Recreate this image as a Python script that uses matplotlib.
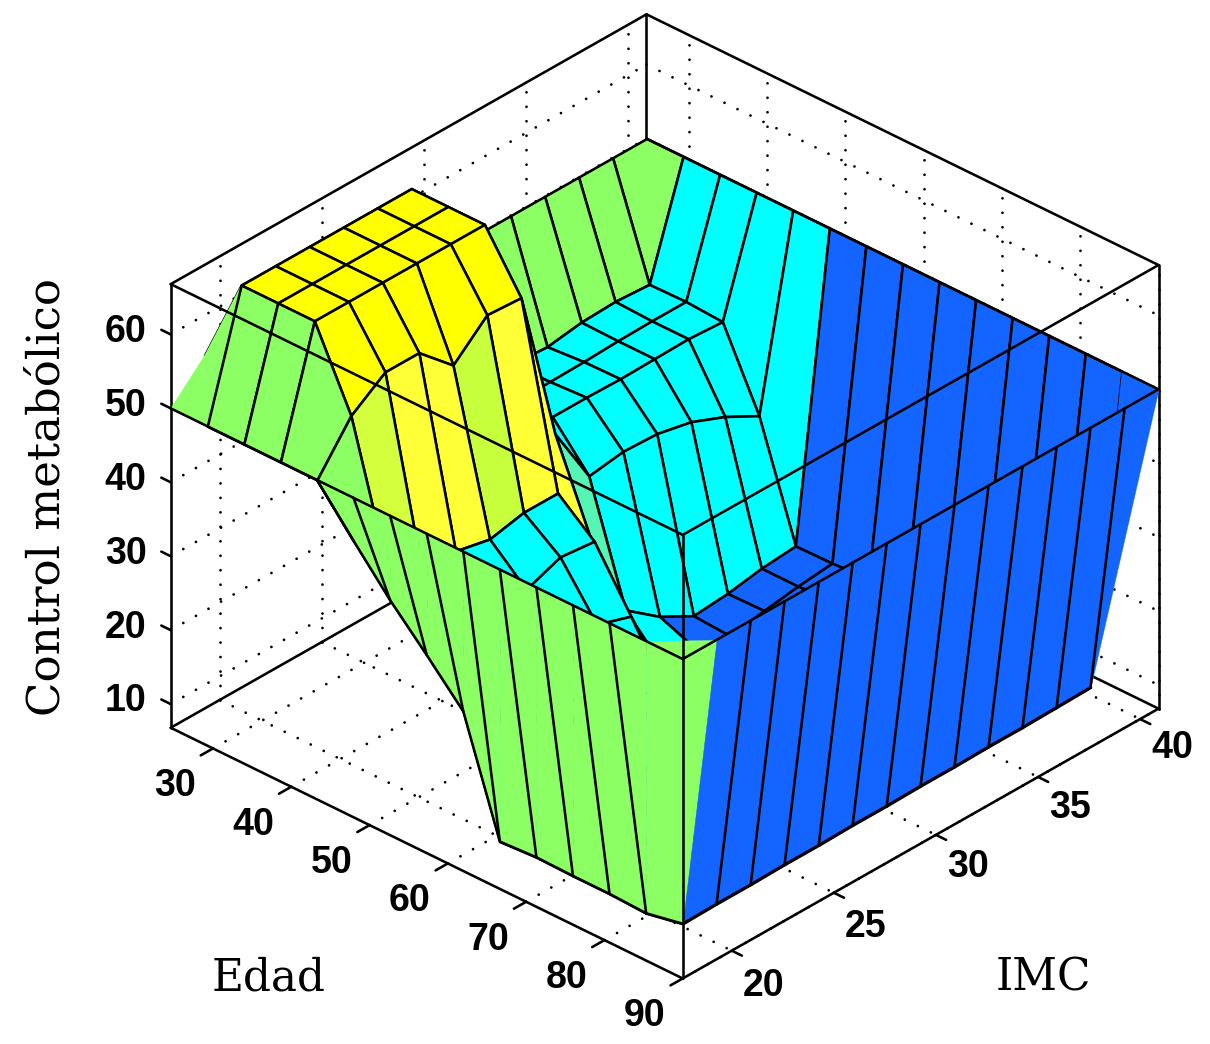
import matplotlib
matplotlib.use("Agg")
import matplotlib.pyplot as plt
from matplotlib.colors import LinearSegmentedColormap
from mpl_toolkits.mplot3d import proj3d
from mpl_toolkits.mplot3d.art3d import Poly3DCollection

# ---- data ----
edad = [24.6, 29.27, 33.94, 38.61, 43.28, 47.95, 52.62, 57.3, 61.97, 66.64, 71.31, 75.98, 80.65, 85.33, 90.0]
imc = [17.6, 19.26, 20.93, 22.59, 24.26, 25.92, 27.59, 29.25, 30.91, 32.58, 34.24, 35.91, 37.57, 39.24, 40.9]
control = [
    [50, 54.6, 50, 50, 50, 50, 50, 50, 50, 50, 50, 50, 50, 50, 50],
    [50, 66.5, 66.5, 66.5, 66.5, 66.5, 66.5, 35, 35, 35, 34.7, 35.4, 35.6, 35.3, 50],
    [50, 66.5, 66.5, 66.5, 66.5, 66.5, 66.5, 35, 35, 35, 35.1, 35.3, 35.4, 35.4, 50],
    [50, 66.5, 66.5, 66.5, 66.5, 66.5, 66.5, 35.3, 35.3, 35.3, 35.2, 35.3, 35.4, 35.1, 50],
    [50, 56.1, 59.4, 59.4, 55.1, 59.3, 59, 38, 29.7, 30.4, 30.2, 29.2, 27.3, 24.8, 50],
    [44.2, 37.8, 35.2, 35, 34, 35, 35, 25.9, 14, 10.5, 8, 8.4, 9.2, 9.6, 50],
    [38.6, 36, 33, 32, 29.6, 31.4, 30.9, 14, 9, 8.5, 7.7, 8.5, 9.2, 9.7, 50],
    [33.6, 32, 30, 28, 25, 24.7, 23.2, 12, 9, 8.5, 8.5, 9, 9.5, 10, 50],
    [28.4, 26, 24, 22, 20, 18, 15, 11, 9.5, 9, 9, 9.5, 10, 10, 50],
    [13.2, 13, 13, 12, 12, 12, 11, 10, 10, 10, 10, 10, 10, 10, 50],
    [13.5, 13, 13, 12, 12, 11, 11, 10, 10, 10, 10, 10, 10, 10, 50],
    [13.4, 13, 13, 12, 12, 11, 11, 10, 10, 10, 10, 10, 10, 10, 50],
    [13.4, 13, 13, 12, 12, 11, 11, 10, 10, 10, 10, 10, 10, 10, 50],
    [13.2, 13, 13, 12, 12, 11, 11, 10, 10, 10, 10, 10, 10, 10, 50],
    [14.2, 14.3, 14.3, 14.4, 14.4, 14.5, 14.5, 14.6, 14.6, 14.7, 14.7, 14.8, 14.9, 33.7, 50],
]
rim_level = 50
# green front wall: lower edge, one value per age from edad[5] to edad[14]
green_low = [44.2, 38.6, 33.6, 28.4, 13.2, 13.5, 13.4, 13.4, 13.2, 14.2]
# blue front wall: lower edge, one value per BMI from imc[0] to imc[12]
blue_low = [14.2, 14.3, 14.3, 14.4, 14.4, 14.5, 14.5, 14.6, 14.6, 14.7, 14.7, 14.8, 14.9]

edad_ticks = [30, 40, 50, 60, 70, 80, 90]
imc_ticks = [20, 25, 30, 35, 40]
z_ticks = [10, 20, 30, 40, 50, 60]
z_lo, z_hi = 6.8, 66.8

GREEN, BLUE = "#8CFF64", "#1464FF"
stops = [(6.8, BLUE), (11.0, BLUE), (12.5, "#00FFFF"), (36.0, "#00FFFF"), (38.0, "#55F5B5"),
         (44.0, GREEN), (52.0, GREEN), (55.0, "#C4FF3C"), (59.0, "#FFFF3C"), (64.0, "#FFFF00"), (66.8, "#FFFF00")]
cmap = LinearSegmentedColormap.from_list(
    "ctrl", [((v - z_lo) / (z_hi - z_lo), c) for v, c in stops], N=512)
def colour(v):
    return cmap((v - z_lo) / (z_hi - z_lo))

plt.rcParams["font.family"] = ["Liberation Sans", "DejaVu Sans"]
W, H = 1210, 1044
fig = plt.figure(figsize=(W / 100, H / 100), dpi=100, facecolor="white")
S = 1044
ax = fig.add_axes([128.5 / W, 11.5 / H, S / W, S / H], projection="3d", proj_type="ortho",
                  computed_zorder=False)
ax.set_axis_off()
ax.patch.set_alpha(0)
ax.view_init(elev=31.8, azim=-47.1)
ax.set_box_aspect((699, 699, 522), zoom=1.0394)
e0, e1, m0, m1 = edad[0], edad[-1], imc[0], imc[-1]
ax.set_xlim(e0, e1, view_margin=0)
ax.set_ylim(m0, m1, view_margin=0)
ax.set_zlim(z_lo, z_hi, view_margin=0)

LW = 1.85
def line(xs, ys, zs, z=1.0, lw=LW, **kw):
    ax.plot(xs, ys, zs, color="black", lw=lw, zorder=z, solid_capstyle="round", **kw)

# back grid, dotted
dots = dict(lw=2.0, ls=(0, (0.01, 5.2)), dash_capstyle="round", color="black", zorder=0.5)
for v in z_ticks:
    ax.plot([e0, e1], [m1, m1], [v, v], **dots)
    ax.plot([e0, e0], [m0, m1], [v, v], **dots)
for v in edad_ticks:
    ax.plot([v, v], [m1, m1], [z_lo, z_hi], **dots)
    ax.plot([v, v], [m0, m1], [z_lo, z_lo], **dots)
for v in imc_ticks:
    ax.plot([e0, e0], [v, v], [z_lo, z_hi], **dots)
    ax.plot([e0, e1], [v, v], [z_lo, z_lo], **dots)

# back box edges
line([e0, e1], [m1, m1], [z_lo, z_lo], 0.8)
line([e0, e0], [m0, m1], [z_lo, z_lo], 0.8)
line([e0, e0], [m1, m1], [z_lo, z_hi], 0.8)
line([e0, e0], [m0, m1], [z_hi, z_hi], 0.8)
line([e0, e1], [m1, m1], [z_hi, z_hi], 0.8)
line([e0, e0], [m0, m0], [z_lo, z_hi], 0.8)
line([e1, e1], [m1, m1], [z_lo, z_hi], 0.8)

# surface, painted back to front
order = 2.0
no_edge = {(0, 0), (13, 12), (13, 13)}
for i in range(len(edad) - 1):
    for j in range(len(imc) - 2, -1, -1):
        quad = [(edad[i], imc[j], control[i][j]), (edad[i + 1], imc[j], control[i + 1][j]),
                (edad[i + 1], imc[j + 1], control[i + 1][j + 1]), (edad[i], imc[j + 1], control[i][j + 1])]
        col = Poly3DCollection([quad], facecolors=[colour(control[i][j])],
                               edgecolors="none" if (i, j) in no_edge else "black",
                               linewidths=LW, zorder=order)
        ax.add_collection3d(col, autolim=False)
        order += 0.001

# front walls
top_e = edad[4:15]
low_e = edad[5:15] + [edad[14]]
low_z = green_low + [green_low[-1]]
order = 3.0
def wall(a, b, c, d, colr):
    global order
    ax.add_collection3d(Poly3DCollection([[a, b, c, d]], facecolors=[colr], edgecolors=[colr],
                                         linewidths=0.3, zorder=order), autolim=False)
    order += 0.001

for k in range(len(top_e) - 1):
    low_prev = (top_e[0], m0, rim_level) if k == 0 else (low_e[k - 1], m0, low_z[k - 1])
    wall((top_e[k], m0, rim_level), (top_e[k + 1], m0, rim_level),
         (low_e[k], m0, low_z[k]), low_prev, GREEN)
wall((e1, m0, rim_level), (e1, imc[1], rim_level), (e1, m0, green_low[-1]), (e1, m0, green_low[-1]), GREEN)
wall((edad[13], m0, rim_level), (e1, m0, rim_level), (e1, imc[1], rim_level), (e1, imc[1], rim_level), GREEN)

blue_top = imc[1:]
blue_bot = imc[:13] + [imc[12]]
blue_z = blue_low + [blue_low[-1]]
for k in range(len(blue_top) - 1):
    wall((e1, blue_top[k], rim_level), (e1, blue_top[k + 1], rim_level),
         (e1, blue_bot[k + 1], blue_z[k + 1]), (e1, blue_bot[k], blue_z[k]), BLUE)

Z_L = 3.5
# wall mesh lines
for k in range(len(top_e) - 2):
    line([top_e[k], low_e[k]], [m0, m0], [rim_level, low_z[k]], Z_L)
line([top_e[0]] + low_e[:10], [m0] * 11, [rim_level] + green_low, Z_L)
for k in range(1, len(blue_top) - 1):
    line([e1, e1], [blue_top[k], blue_bot[k]], [rim_level, blue_z[k]], Z_L)
line([e1] * 13, imc[:13], blue_low, Z_L)
# rim lines
line([e0, e1], [m0, m0], [rim_level, rim_level], Z_L + 0.1)
line([e1, e1], [m0, m1], [rim_level, rim_level], Z_L + 0.1)
line([e0, e1], [m1, m1], [rim_level, rim_level], 2.9)

# front box edges
for xs, ys, zs in [([e0, e1], [m0, m0], [z_lo, z_lo]), ([e1, e1], [m0, m1], [z_lo, z_lo]),
                   ([e1, e1], [m0, m0], [z_lo, z_hi]), ([e0, e1], [m0, m0], [z_hi, z_hi]),
                   ([e1, e1], [m0, m1], [z_hi, z_hi])]:
    line(xs, ys, zs, 4.0)

# ticks and labels: the label anchors are projected once through the axes' own view
M = ax.get_proj()
tick_font = dict(fontsize=27, fontweight="bold", ha="center", va="center", color="black",
                 family=["Liberation Sans", "DejaVu Sans"], zorder=5, transform=ax.transData)
def tick_label(x, y, z, s):
    px, py, _ = proj3d.proj_transform(x, y, z, M)
    ax.text2D(px, py, s, **tick_font)

for v in edad_ticks:
    line([v, v], [m0, m0 - 0.6], [z_lo, z_lo], 4.0)
    tick_label(v + 1.5, m0 - 2.45, z_lo - 0.5, str(v))
for k, v in enumerate(imc_ticks):
    line([e1, e1 + 1.3], [v, v], [z_lo, z_lo], 4.0)
    tick_label(e1 + 5.08, v - 0.38, z_lo - 1.6 + 0.22 * k, str(v))
for v in z_ticks:
    line([e0, e0 - 1.2], [m0, m0], [v, v], 4.0)
    tick_label(e0 - 3.4, m0 - 0.9, v, str(v))

label_font = dict(family=["DejaVu Serif"], color="black", ha="center", va="center")
fig.text(47 / W, 1 - 497 / H, "Control metabólico", rotation=90, fontsize=32.5, **label_font)
fig.text(269 / W, 1 - 978 / H, "Edad", fontsize=31.5, **label_font)
fig.text(1043 / W, 1 - 978 / H, "IMC", fontsize=31.5, **label_font)

fig.savefig("out.png", dpi=100, facecolor="white")
